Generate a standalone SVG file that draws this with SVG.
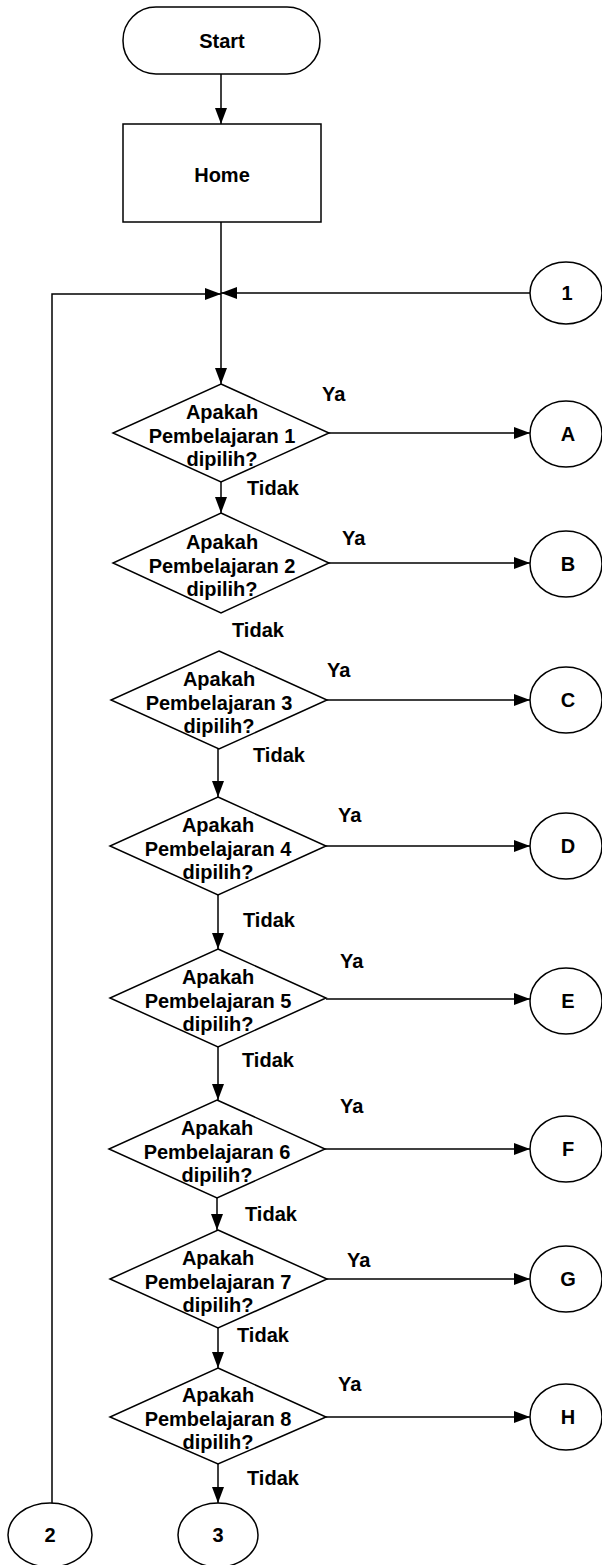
<svg xmlns="http://www.w3.org/2000/svg" width="602" height="1565" viewBox="0 0 602 1565">
<style>
.s{fill:#fff;stroke:#000;stroke-width:1.5}
.t{font-family:"Liberation Sans",Arial,sans-serif;font-weight:bold;font-size:20px;fill:#000;text-anchor:middle}
.l{font-family:"Liberation Sans",Arial,sans-serif;font-weight:bold;font-size:20px;fill:#000}
.c{fill:none;stroke:#000;stroke-width:1.5}
</style>
<defs>
<marker id="ah" markerUnits="userSpaceOnUse" markerWidth="16" markerHeight="12" refX="16" refY="6" orient="auto">
<path d="M0,0 L16,6 L0,12 z" fill="#000"/>
</marker>
</defs>
<rect width="602" height="1565" fill="#fff"/>
<g id="connectors">
<path class="c" d="M221,74 V124" marker-end="url(#ah)"/>
<path class="c" d="M221,222 V384" marker-end="url(#ah)"/>
<path class="c" d="M52,1503 V294 H221" marker-end="url(#ah)"/>
<path class="c" d="M530,293 H221" marker-end="url(#ah)"/>
<path class="c" d="M329,433 H530" marker-end="url(#ah)"/>
<path class="c" d="M221,482 V513" marker-end="url(#ah)"/>
<path class="c" d="M329,563 H530" marker-end="url(#ah)"/>
<path class="c" d="M327,700 H530" marker-end="url(#ah)"/>
<path class="c" d="M218,749 V797" marker-end="url(#ah)"/>
<path class="c" d="M326,846 H530" marker-end="url(#ah)"/>
<path class="c" d="M218,895 V949" marker-end="url(#ah)"/>
<path class="c" d="M326,999 H530" marker-end="url(#ah)"/>
<path class="c" d="M218,1047 V1100" marker-end="url(#ah)"/>
<path class="c" d="M325,1149 H530" marker-end="url(#ah)"/>
<path class="c" d="M217,1198 V1230" marker-end="url(#ah)"/>
<path class="c" d="M327,1279 H530" marker-end="url(#ah)"/>
<path class="c" d="M218,1328 V1368" marker-end="url(#ah)"/>
<path class="c" d="M326,1417 H530" marker-end="url(#ah)"/>
<path class="c" d="M218,1464 V1503" marker-end="url(#ah)"/>
</g>
<g id="labels">
<text class="l" x="322" y="401">Ya</text>
<text class="l" x="247" y="495">Tidak</text>
<text class="l" x="342" y="545">Ya</text>
<text class="l" x="232" y="637">Tidak</text>
<text class="l" x="327" y="677">Ya</text>
<text class="l" x="253" y="762">Tidak</text>
<text class="l" x="338" y="822">Ya</text>
<text class="l" x="243" y="927">Tidak</text>
<text class="l" x="340" y="968">Ya</text>
<text class="l" x="242" y="1067">Tidak</text>
<text class="l" x="340" y="1113">Ya</text>
<text class="l" x="245" y="1221">Tidak</text>
<text class="l" x="347" y="1267">Ya</text>
<text class="l" x="237" y="1342">Tidak</text>
<text class="l" x="338" y="1391">Ya</text>
<text class="l" x="247" y="1485">Tidak</text>
</g>
<g id="start"><rect class="s" x="123" y="7" width="197" height="67" rx="33" ry="33"/><text class="t" x="222" y="48" font-size="21">Start</text></g>
<g id="home"><rect class="s" x="123" y="124" width="198" height="98"/><text class="t" x="222" y="182" font-size="21">Home</text></g>
<g id="d1"><polygon class="s" points="221,384 329,433 221,482 113,433"/><text class="t" x="222" y="419">Apakah</text><text class="t" x="222" y="443">Pembelajaran 1</text><text class="t" x="222" y="466">dipilih?</text></g>
<g id="d2"><polygon class="s" points="221,513 329,563 221,613 113,563"/><text class="t" x="222" y="549">Apakah</text><text class="t" x="222" y="573">Pembelajaran 2</text><text class="t" x="222" y="596">dipilih?</text></g>
<g id="d3"><polygon class="s" points="219,651 327,700 219,749 111,700"/><text class="t" x="219" y="686">Apakah</text><text class="t" x="219" y="710">Pembelajaran 3</text><text class="t" x="219" y="733">dipilih?</text></g>
<g id="d4"><polygon class="s" points="218,797 326,846 218,895 110,846"/><text class="t" x="218" y="832">Apakah</text><text class="t" x="218" y="856">Pembelajaran 4</text><text class="t" x="218" y="879">dipilih?</text></g>
<g id="d5"><polygon class="s" points="218,949 326,998 218,1047 110,998"/><text class="t" x="218" y="984">Apakah</text><text class="t" x="218" y="1008">Pembelajaran 5</text><text class="t" x="218" y="1031">dipilih?</text></g>
<g id="d6"><polygon class="s" points="217,1100 325,1149 217,1198 109,1149"/><text class="t" x="217" y="1135">Apakah</text><text class="t" x="217" y="1159">Pembelajaran 6</text><text class="t" x="217" y="1182">dipilih?</text></g>
<g id="d7"><polygon class="s" points="218,1230 327,1279 218,1328 110,1279"/><text class="t" x="218" y="1265">Apakah</text><text class="t" x="218" y="1289">Pembelajaran 7</text><text class="t" x="218" y="1312">dipilih?</text></g>
<g id="d8"><polygon class="s" points="218,1368 326,1417 218,1464 110,1417"/><text class="t" x="218" y="1402">Apakah</text><text class="t" x="218" y="1426">Pembelajaran 8</text><text class="t" x="218" y="1449">dipilih?</text></g>
<g id="c1"><ellipse class="s" cx="566" cy="293" rx="36" ry="31"/><text class="t" x="567" y="300">1</text></g>
<g id="cA"><ellipse class="s" cx="566" cy="434" rx="36" ry="33"/><text class="t" x="568" y="441">A</text></g>
<g id="cB"><ellipse class="s" cx="566" cy="564" rx="36" ry="33"/><text class="t" x="568" y="571">B</text></g>
<g id="cC"><ellipse class="s" cx="566" cy="700" rx="36" ry="33"/><text class="t" x="568" y="707">C</text></g>
<g id="cD"><ellipse class="s" cx="566" cy="846" rx="36" ry="33"/><text class="t" x="568" y="853">D</text></g>
<g id="cE"><ellipse class="s" cx="566" cy="1001" rx="36" ry="33"/><text class="t" x="568" y="1008">E</text></g>
<g id="cF"><ellipse class="s" cx="566" cy="1149" rx="36" ry="33"/><text class="t" x="568" y="1156">F</text></g>
<g id="cG"><ellipse class="s" cx="566" cy="1279" rx="36" ry="33"/><text class="t" x="568" y="1286">G</text></g>
<g id="cH"><ellipse class="s" cx="566" cy="1417" rx="36" ry="33"/><text class="t" x="568" y="1424">H</text></g>
<g id="c2"><ellipse class="s" cx="50" cy="1535" rx="42" ry="32"/><text class="t" x="50" y="1542">2</text></g>
<g id="c3"><ellipse class="s" cx="218" cy="1535" rx="40" ry="32"/><text class="t" x="218" y="1542">3</text></g>
</svg>
